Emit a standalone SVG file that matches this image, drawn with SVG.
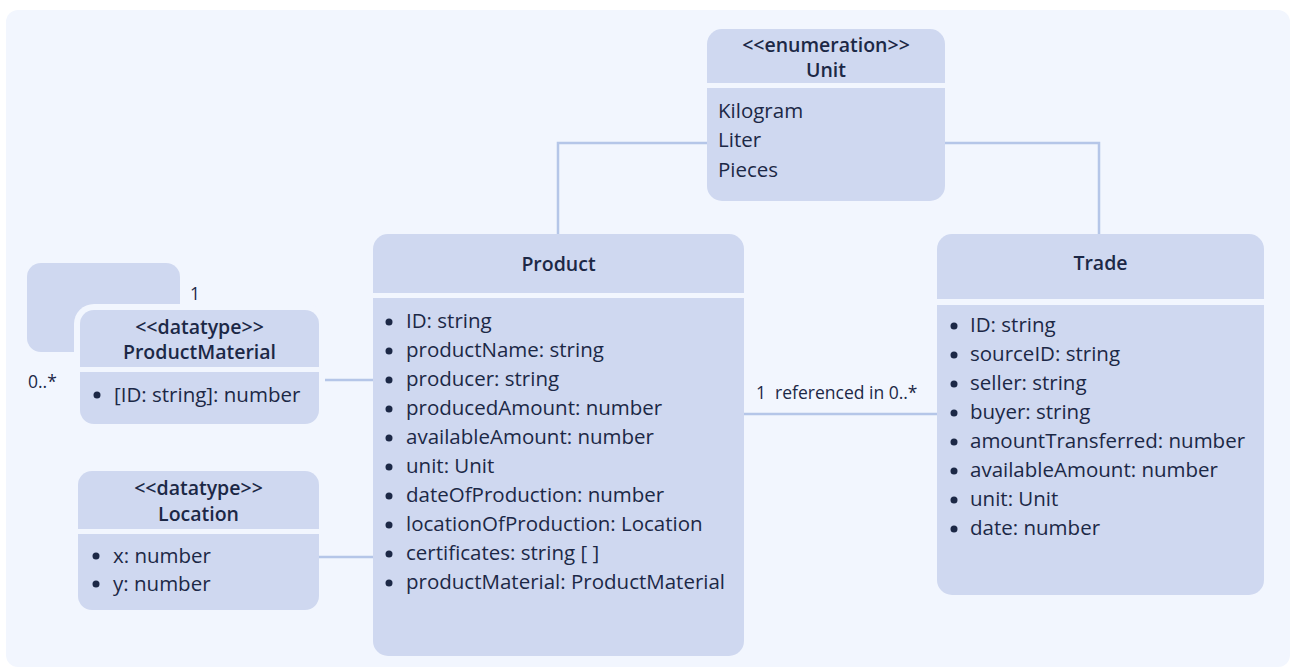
<svg xmlns="http://www.w3.org/2000/svg" width="1292" height="669" viewBox="0 0 1292 669">
<style>
.box{fill:#cfd8f0}
.div{fill:#f2f6fe}
.t{font-family:"Open Sans","Liberation Sans",sans-serif;font-size:20.5px;fill:#1c2846}
.s{font-size:17.5px;white-space:pre}
.h{font-weight:600;text-anchor:middle;font-size:19.5px}
.b{fill:#1c2846}
.c{fill:none;stroke:#b5c6e8;stroke-width:2.5}
</style>
<rect x="0" y="0" width="1292" height="669" fill="#ffffff"/>
<rect x="6" y="10" width="1284" height="657" rx="12" fill="#f2f6fe"/>
<g id="connectors">
<polyline class="c" points="707,143 558,143 558,234"/>
<polyline class="c" points="945,143 1099,143 1099,234"/>
<line class="c" x1="319" y1="380" x2="373" y2="380"/>
<line class="c" x1="319" y1="557" x2="373" y2="557"/>
<line class="c" x1="744" y1="414" x2="937" y2="414"/>
<rect x="27" y="263" width="153" height="89" rx="14" class="box"/>
<text class="t s" x="190" y="300">1</text>
<text class="t s" x="28" y="388">0..*</text>
<text class="t s" x="756" y="399">1  referenced in 0..*</text>
</g>
<g id="unit">
<rect class="box" x="707" y="29" width="238" height="172" rx="15"/>
<rect class="div" x="707" y="83" width="238" height="5"/>
<text class="t h" x="826" y="52">&lt;&lt;enumeration&gt;&gt;</text>
<text class="t h" x="826" y="77">Unit</text>
<text class="t" x="718" y="118">Kilogram</text>
<text class="t" x="718" y="147">Liter</text>
<text class="t" x="718" y="177">Pieces</text>
</g>
<g id="productmaterial">
<rect class="div" x="74" y="304" width="251" height="126" rx="20"/>
<rect class="box" x="80" y="310" width="239" height="114" rx="14"/>
<rect class="div" x="80" y="367" width="239" height="5"/>
<text class="t h" x="199.5" y="334">&lt;&lt;datatype&gt;&gt;</text>
<text class="t h" x="199.5" y="359">ProductMaterial</text>
<circle class="b" cx="97" cy="395" r="3.5"/>
<text class="t" x="114" y="402">[ID: string]: number</text>
</g>
<g id="location">
<rect class="box" x="78" y="471" width="241" height="139" rx="14"/>
<rect class="div" x="78" y="529" width="241" height="5"/>
<text class="t h" x="198.5" y="495">&lt;&lt;datatype&gt;&gt;</text>
<text class="t h" x="198.5" y="521">Location</text>
<circle class="b" cx="96" cy="556" r="3.5"/>
<text class="t" x="113" y="563">x: number</text>
<circle class="b" cx="96" cy="584" r="3.5"/>
<text class="t" x="113" y="591">y: number</text>
</g>
<g id="product">
<rect class="box" x="373" y="234" width="371" height="422" rx="15"/>
<rect class="div" x="373" y="293" width="371" height="5"/>
<text class="t h" x="558.5" y="271">Product</text>
<g class="b">
<circle cx="389" cy="322" r="3.5"/><circle cx="389" cy="351" r="3.5"/><circle cx="389" cy="380" r="3.5"/><circle cx="389" cy="409" r="3.5"/><circle cx="389" cy="438" r="3.5"/><circle cx="389" cy="467" r="3.5"/><circle cx="389" cy="496" r="3.5"/><circle cx="389" cy="525" r="3.5"/><circle cx="389" cy="554" r="3.5"/><circle cx="389" cy="583" r="3.5"/>
</g>
<text class="t" x="406" y="328">ID: string</text>
<text class="t" x="406" y="357">productName: string</text>
<text class="t" x="406" y="386">producer: string</text>
<text class="t" x="406" y="415">producedAmount: number</text>
<text class="t" x="406" y="444">availableAmount: number</text>
<text class="t" x="406" y="473">unit: Unit</text>
<text class="t" x="406" y="502">dateOfProduction: number</text>
<text class="t" x="406" y="531">locationOfProduction: Location</text>
<text class="t" x="406" y="560">certificates: string [ ]</text>
<text class="t" x="406" y="589">productMaterial: ProductMaterial</text>
</g>
<g id="trade">
<rect class="box" x="937" y="234" width="327" height="361" rx="15"/>
<rect class="div" x="937" y="299" width="327" height="6"/>
<text class="t h" x="1100.5" y="270">Trade</text>
<g class="b">
<circle cx="954" cy="326" r="3.5"/><circle cx="954" cy="355" r="3.5"/><circle cx="954" cy="384" r="3.5"/><circle cx="954" cy="413" r="3.5"/><circle cx="954" cy="442" r="3.5"/><circle cx="954" cy="471" r="3.5"/><circle cx="954" cy="500" r="3.5"/><circle cx="954" cy="529" r="3.5"/>
</g>
<text class="t" x="970" y="332">ID: string</text>
<text class="t" x="970" y="361">sourceID: string</text>
<text class="t" x="970" y="390">seller: string</text>
<text class="t" x="970" y="419">buyer: string</text>
<text class="t" x="970" y="448">amountTransferred: number</text>
<text class="t" x="970" y="477">availableAmount: number</text>
<text class="t" x="970" y="506">unit: Unit</text>
<text class="t" x="970" y="535">date: number</text>
</g>
</svg>
